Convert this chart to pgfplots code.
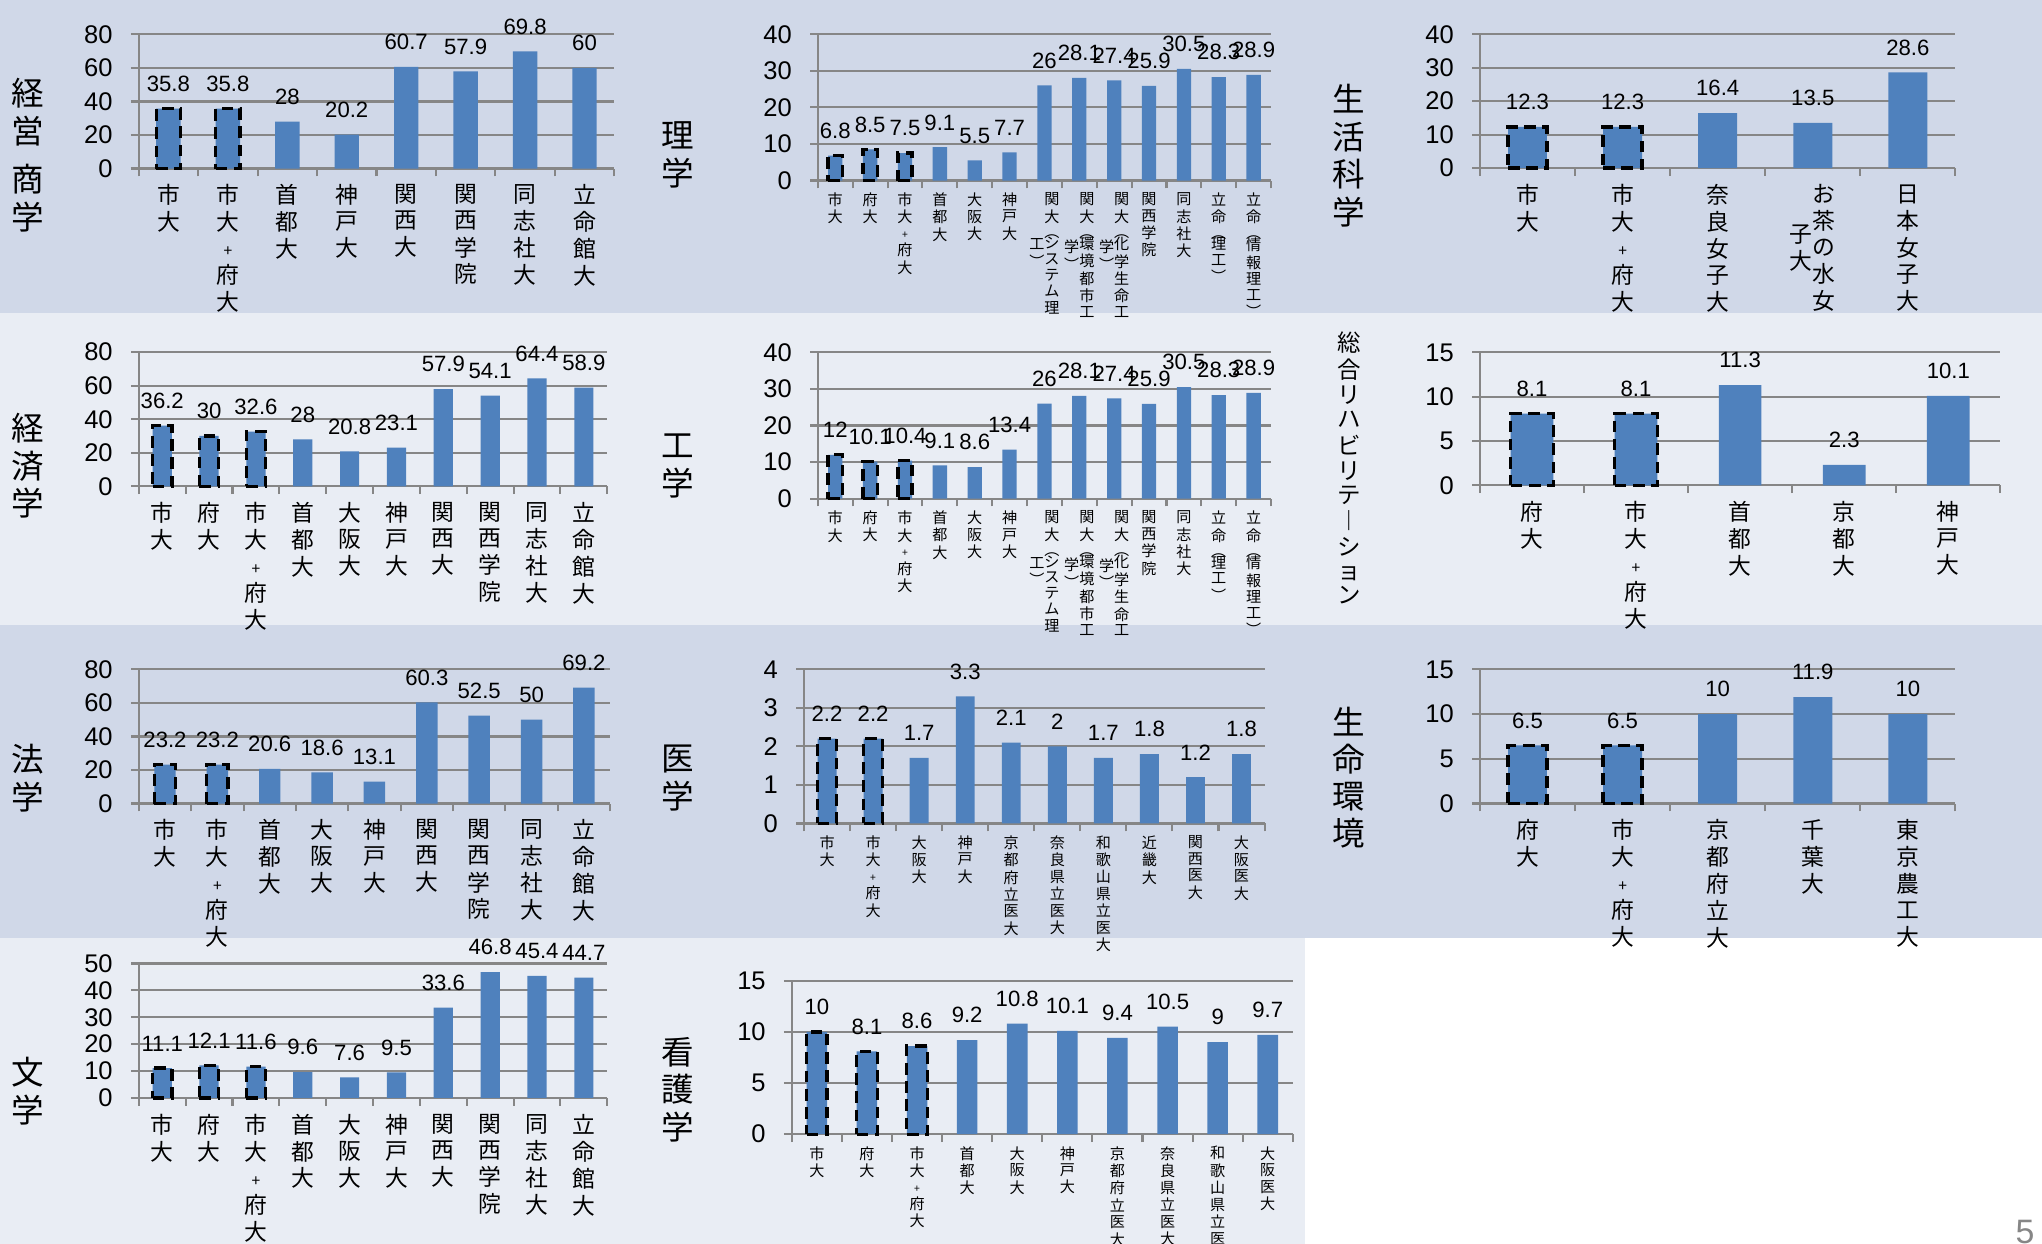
\documentclass[border=0pt]{standalone}
\usepackage{fontspec}
\setmainfont{Liberation Sans}
\newfontfamily\cjk{Noto Sans CJK JP}
\usepackage{pgfplots}
\pgfplotsset{compat=1.18}

\definecolor{bandA}{RGB}{208,216,232}
\definecolor{bandB}{RGB}{233,237,244}
\definecolor{barblue}{RGB}{79,129,189}
\definecolor{gridgray}{RGB}{134,134,134}

% vertical (stacked) text
\DeclareRobustCommand{\vt}[1]{\begin{tabular}{@{}c@{}}#1\end{tabular}}
\DeclareRobustCommand{\pl}{{\fontsize{6}{6}\selectfont +}}
\DeclareRobustCommand{\spl}{{\fontsize{4}{4}\selectfont +}}
\newcommand{\ttl}[1]{\cjk\fontsize{12.5}{13}\selectfont\vt{#1}}

\pgfplotsset{
  panel/.style={
    scale only axis, anchor=south west,
    axis x line*=bottom, axis y line*=left,
    axis line style={draw=gridgray, line width=0.8pt},
    ymin=0, xmin=-0.5,
    ymajorgrids, grid style={draw=gridgray, line width=0.8pt},
    tick align=outside, major tick length=3pt,
    tick style={draw=gridgray, line width=0.8pt},
    x tick label as interval,
    yticklabel style={font=\fontsize{9.8}{10}\selectfont, text=black, xshift=-3.5pt},
    xticklabel style={font=\fontsize{8.75}{10}\selectfont\cjk, anchor=north, inner sep=1pt, text=black, yshift=-2pt},
    /pgf/number format/assume math mode=true,
    clip=false,
  },
  small/.style={xticklabel style={font=\fontsize{5.8}{6}\selectfont\cjk, yshift=1.5pt}},
  vals/.style={ybar, bar width=0.41, fill=barblue, draw=none,
    nodes near coords,
    every node near coord/.append style={font=\fontsize{8.5}{9}\selectfont, text=black, anchor=south, yshift=3pt}},
  dash/.style={ybar, bar width=0.41, fill=none, draw=black, line width=1.3pt,
    dash pattern=on 4.5pt off 2.5pt},
}

\begin{document}
\begin{tikzpicture}
\useasboundingbox (0,0) rectangle (784pt,-477.5pt);
\fill[bandA] (0,0) rectangle (784pt,-120pt);
\fill[bandB] (0,-120pt) rectangle (784pt,-240pt);
\fill[bandA] (0,-240pt) rectangle (784pt,-360pt);
\fill[bandB] (0,-360pt) rectangle (501pt,-477.5pt);

% titles
\node at (10.5pt,-61pt) {\ttl{経\\営\\[4pt]商\\学}};
\node at (260.25pt,-61pt) {\ttl{理\\学}};
\node at (517.75pt,-61.25pt) {\ttl{生\\活\\科\\学}};
\node at (10.5pt,-180.35pt) {\ttl{経\\済\\学}};
\node at (260.25pt,-180.35pt) {\ttl{工\\学}};
\node at (518pt,-181pt) {\cjk\fontsize{9}{9.2}\selectfont\vt{総\\合\\リ\\ハ\\ビ\\リ\\テ\\︱\\シ\\ョ\\ン}};
\node at (10.5pt,-300.3pt) {\ttl{法\\学}};
\node at (260.25pt,-300.15pt) {\ttl{医\\学}};
\node at (517.75pt,-300pt) {\ttl{生\\命\\環\\境}};
\node at (10.5pt,-420.4pt) {\ttl{文\\学}};
\node at (260.25pt,-419.75pt) {\ttl{看\\護\\学}};
\node[text=gridgray, font=\fontsize{13}{13}\selectfont] at (777.5pt,-473pt) {5};

% ---- 経営 商学
\begin{axis}[panel, at={(53.25pt,-64.7pt)}, width=182.6pt, height=51.5pt,
  xmax=7.5, ymax=80, ytick={0,20,...,80}, xtick={-0.5,0.5,...,7.5},
  xticklabels={\vt{市\\大},\vt{市\\大\\\pl\\府\\大},\vt{首\\都\\大},\vt{神\\戸\\大},
    \vt{関\\西\\大},\vt{関\\西\\学\\院},\vt{同\\志\\社\\大},\vt{立\\命\\館\\大}}]
\addplot[vals] coordinates {(0,35.8) (1,35.8) (2,28) (3,20.2) (4,60.7) (5,57.9) (6,69.8) (7,60)};
\addplot[dash] coordinates {(0,35.8) (1,35.8)};
\end{axis}

% ---- 理学
\begin{axis}[panel, small, at={(314pt,-69.3pt)}, width=174pt, height=56.15pt,
  xmax=12.5, ymax=40, ytick={0,10,...,40}, xtick={-0.5,0.5,...,12.5},
  xticklabels={\vt{市\\大},\vt{府\\大},\vt{市\\大\\\spl\\府\\大},\vt{首\\都\\大},\vt{大\\阪\\大},\vt{神\\戸\\大},
    {\vt{工\\︶}\vt{関\\大\\︵\\[-2pt]シ\\ス\\テ\\ム\\理}},
    {\vt{学\\︶}\vt{関\\大\\︵\\[-2pt]環\\境\\都\\市\\工}},
    {\vt{学\\︶}\vt{関\\大\\︵\\[-2pt]化\\学\\生\\命\\工}},
    \vt{関\\西\\学\\院},\vt{同\\志\\社\\大},
    \vt{立\\命\\︵\\[-2pt]理\\工\\︶},\vt{立\\命\\︵\\[-2pt]情\\報\\理\\工\\︶}}]
\addplot[vals] coordinates {(0,6.8) (1,8.5) (2,7.5) (3,9.1) (4,5.5) (5,7.7) (6,26) (7,28.1) (8,27.4) (9,25.9) (10,30.5) (11,28.3) (12,28.9)};
\addplot[dash] coordinates {(0,6.8) (1,8.5) (2,7.5)};
\end{axis}

% ---- 生活科学
\begin{axis}[panel, at={(568.2pt,-64.5pt)}, width=182.55pt, height=51.35pt,
  xmax=4.5, ymax=40, ytick={0,10,...,40}, xtick={-0.5,0.5,...,4.5},
  xticklabels={\vt{市\\大},\vt{市\\大\\\pl\\府\\大},\vt{奈\\良\\女\\子\\大},
    {\vt{子\\大}\vt{お\\茶\\の\\水\\女}},\vt{日\\本\\女\\子\\大}}]
\addplot[vals] coordinates {(0,12.3) (1,12.3) (2,16.4) (3,13.5) (4,28.6)};
\addplot[dash] coordinates {(0,12.3) (1,12.3)};
\end{axis}

% ---- 経済学
\begin{axis}[panel, at={(53.3pt,-186.7pt)}, width=179.85pt, height=51.5pt,
  xmax=9.5, ymax=80, ytick={0,20,...,80}, xtick={-0.5,0.5,...,9.5},
  xticklabels={\vt{市\\大},\vt{府\\大},\vt{市\\大\\\pl\\府\\大},\vt{首\\都\\大},\vt{大\\阪\\大},\vt{神\\戸\\大},
    \vt{関\\西\\大},\vt{関\\西\\学\\院},\vt{同\\志\\社\\大},\vt{立\\命\\館\\大}}]
\addplot[vals] coordinates {(0,36.2) (1,30) (2,32.6) (3,28) (4,20.8) (5,23.1) (6,57.9) (7,54.1) (8,64.4) (9,58.9)};
\addplot[dash] coordinates {(0,36.2) (1,30) (2,32.6)};
\end{axis}

% ---- 工学
\begin{axis}[panel, small, at={(314pt,-191.45pt)}, width=174pt, height=56.15pt,
  xmax=12.5, ymax=40, ytick={0,10,...,40}, xtick={-0.5,0.5,...,12.5},
  xticklabels={\vt{市\\大},\vt{府\\大},\vt{市\\大\\\spl\\府\\大},\vt{首\\都\\大},\vt{大\\阪\\大},\vt{神\\戸\\大},
    {\vt{工\\︶}\vt{関\\大\\︵\\[-2pt]シ\\ス\\テ\\ム\\理}},
    {\vt{学\\︶}\vt{関\\大\\︵\\[-2pt]環\\境\\都\\市\\工}},
    {\vt{学\\︶}\vt{関\\大\\︵\\[-2pt]化\\学\\生\\命\\工}},
    \vt{関\\西\\学\\院},\vt{同\\志\\社\\大},
    \vt{立\\命\\︵\\[-2pt]理\\工\\︶},\vt{立\\命\\︵\\[-2pt]情\\報\\理\\工\\︶}}]
\addplot[vals] coordinates {(0,12) (1,10.1) (2,10.4) (3,9.1) (4,8.6) (5,13.4) (6,26) (7,28.1) (8,27.4) (9,25.9) (10,30.5) (11,28.3) (12,28.9)};
\addplot[dash] coordinates {(0,12) (1,10.1) (2,10.4)};
\end{axis}

% ---- 総合リハビリテーション
\begin{axis}[panel, at={(568.2pt,-186.35pt)}, width=199.8pt, height=51.05pt,
  xmax=4.5, ymax=15, ytick={0,5,...,15}, xtick={-0.5,0.5,...,4.5},
  xticklabels={\vt{府\\大},\vt{市\\大\\\pl\\府\\大},\vt{首\\都\\大},\vt{京\\都\\大},\vt{神\\戸\\大}}]
\addplot[vals] coordinates {(0,8.1) (1,8.1) (2,11.3) (3,2.3) (4,10.1)};
\addplot[dash] coordinates {(0,8.1) (1,8.1)};
\end{axis}

% ---- 法学
\begin{axis}[panel, at={(53.3pt,-308.5pt)}, width=180.95pt, height=51.5pt,
  xmax=8.5, ymax=80, ytick={0,20,...,80}, xtick={-0.5,0.5,...,8.5},
  xticklabels={\vt{市\\大},\vt{市\\大\\\pl\\府\\大},\vt{首\\都\\大},\vt{大\\阪\\大},\vt{神\\戸\\大},
    \vt{関\\西\\大},\vt{関\\西\\学\\院},\vt{同\\志\\社\\大},\vt{立\\命\\館\\大}}]
\addplot[vals] coordinates {(0,23.2) (1,23.2) (2,20.6) (3,18.6) (4,13.1) (5,60.3) (6,52.5) (7,50) (8,69.2)};
\addplot[dash] coordinates {(0,23.2) (1,23.2)};
\end{axis}

% ---- 医学
\begin{axis}[panel, small, at={(308.7pt,-316.15pt)}, width=176.8pt, height=59.15pt,
  xmax=9.5, ymax=4, ytick={0,1,...,4}, xtick={-0.5,0.5,...,9.5},
  xticklabels={\vt{市\\大},\vt{市\\大\\\spl\\府\\大},\vt{大\\阪\\大},\vt{神\\戸\\大},
    \vt{京\\都\\府\\立\\医\\大},\vt{奈\\良\\県\\立\\医\\大},\vt{和\\歌\\山\\県\\立\\医\\大},
    \vt{近\\畿\\大},\vt{関\\西\\医\\大},\vt{大\\阪\\医\\大}}]
\addplot[vals] coordinates {(0,2.2) (1,2.2) (2,1.7) (3,3.3) (4,2.1) (5,2) (6,1.7) (7,1.8) (8,1.2) (9,1.8)};
\addplot[dash] coordinates {(0,2.2) (1,2.2)};
\end{axis}

% ---- 生命環境
\begin{axis}[panel, at={(568.2pt,-308.5pt)}, width=182.55pt, height=51.5pt,
  xmax=4.5, ymax=15, ytick={0,5,...,15}, xtick={-0.5,0.5,...,4.5},
  xticklabels={\vt{府\\大},\vt{市\\大\\\pl\\府\\大},\vt{京\\都\\府\\立\\大},\vt{千\\葉\\大},\vt{東\\京\\農\\工\\大}}]
\addplot[vals] coordinates {(0,6.5) (1,6.5) (2,10) (3,11.9) (4,10)};
\addplot[dash] coordinates {(0,6.5) (1,6.5)};
\end{axis}

% ---- 文学
\begin{axis}[panel, at={(53.3pt,-421.5pt)}, width=179.85pt, height=51.6pt,
  xmax=9.5, ymax=50, ytick={0,10,...,50}, xtick={-0.5,0.5,...,9.5},
  xticklabels={\vt{市\\大},\vt{府\\大},\vt{市\\大\\\pl\\府\\大},\vt{首\\都\\大},\vt{大\\阪\\大},\vt{神\\戸\\大},
    \vt{関\\西\\大},\vt{関\\西\\学\\院},\vt{同\\志\\社\\大},\vt{立\\命\\館\\大}}]
\addplot[vals] coordinates {(0,11.1) (1,12.1) (2,11.6) (3,9.6) (4,7.6) (5,9.5) (6,33.6) (7,46.8) (8,45.4) (9,44.7)};
\addplot[dash] coordinates {(0,11.1) (1,12.1) (2,11.6)};
\end{axis}

% ---- 看護学
\begin{axis}[panel, small, at={(304pt,-435.45pt)}, width=192.35pt, height=58.95pt,
  xmax=9.5, ymax=15, ytick={0,5,...,15}, xtick={-0.5,0.5,...,9.5},
  xticklabels={\vt{市\\大},\vt{府\\大},\vt{市\\大\\\spl\\府\\大},\vt{首\\都\\大},\vt{大\\阪\\大},\vt{神\\戸\\大},
    \vt{京\\都\\府\\立\\医\\大},\vt{奈\\良\\県\\立\\医\\大},\vt{和\\歌\\山\\県\\立\\医\\大},\vt{大\\阪\\医\\大}}]
\addplot[vals] coordinates {(0,10) (1,8.1) (2,8.6) (3,9.2) (4,10.8) (5,10.1) (6,9.4) (7,10.5) (8,9) (9,9.7)};
\addplot[dash] coordinates {(0,10) (1,8.1) (2,8.6)};
\end{axis}
\end{tikzpicture}
\end{document}
